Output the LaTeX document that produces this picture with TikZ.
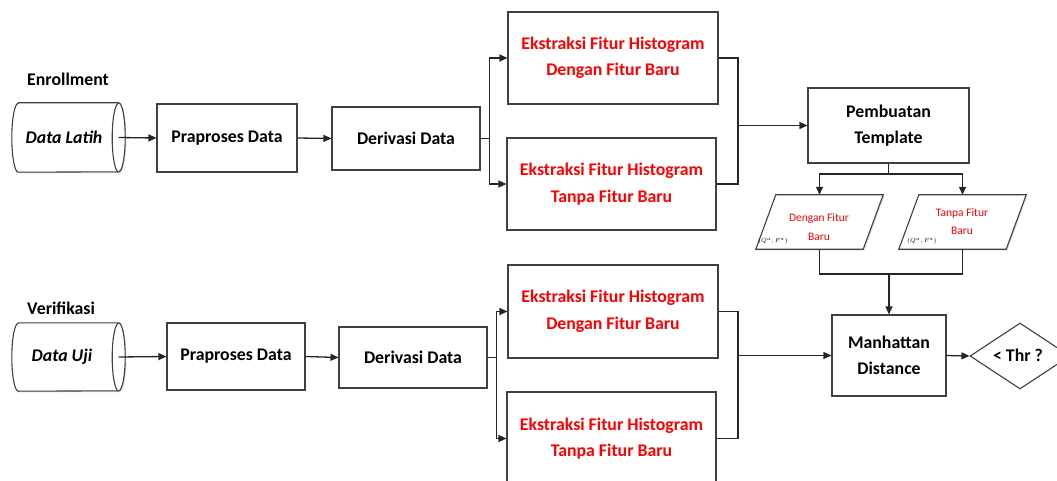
\documentclass[tikz,border=0pt]{standalone}
\usepackage{fontspec}
\setmainfont{Carlito}
\usetikzlibrary{shapes.geometric,arrows.meta,shadows}
\begin{document}
\begin{tikzpicture}[x=1pt,y=-1pt,
  font=\bfseries\fontsize{17.8}{26.5}\selectfont,
  box/.style={draw=black!75, line width=1.1pt, fill=white, align=center, inner sep=0pt,
    drop shadow={shadow xshift=1.2pt, shadow yshift=-1.2pt, opacity=0.3}},
  redbox/.style={box, text=red},
  plain/.style={inner sep=0pt, align=center},
  paranode/.style={plain, minimum width=107pt, minimum height=54pt},
  parashape/.style={draw=black!75, line width=1.1pt, fill=white,
    drop shadow={shadow xshift=1.2pt, shadow yshift=-1.2pt, opacity=0.3}},
  small/.style={plain, text=red, font=\fontsize{11.5}{18}\selectfont},
  ln/.style={line width=1.3pt, draw=black!85},
  arr/.style={ln, -{Triangle[length=8pt,width=7pt]}},
  cyl/.style={draw=black!75, line width=1.1pt, fill=white}
]
\useasboundingbox (0,0) rectangle (1057,481);
\clip (0,0) rectangle (1057,481);

% ---------- Enrollment row ----------
\node[plain, anchor=west] (enr) at (27,79) {Enrollment};
\node[plain, minimum width=113pt, minimum height=69pt] (dl) at (68.5,137.5) {};
\draw[cyl, drop shadow={shadow xshift=1.2pt, shadow yshift=-1.2pt, opacity=0.3}]
  ([xshift=6.5pt]dl.north west) -- ([xshift=-6.5pt]dl.north east)
  arc[start angle=90, end angle=-90, x radius=6.5pt, y radius=34.5pt]
  -- ([xshift=6.5pt]dl.south west)
  arc[start angle=270, end angle=90, x radius=6.5pt, y radius=34.5pt] -- cycle;
\draw[cyl] ([xshift=-6.5pt]dl.south east)
  arc[start angle=270, end angle=90, x radius=6.5pt, y radius=34.5pt];
\node[plain, font=\bfseries\itshape\fontsize{17.8}{26.5}\selectfont] (dlt) at (64,137.5) {Data Latih};

\node[box, minimum width=140pt, minimum height=68pt] (pp1) at (227,138) {Praproses Data};
\node[box, minimum width=148pt, minimum height=63pt] (dd1) at (406,138.5) {Derivasi Data};
\node[redbox, minimum width=210pt, minimum height=92pt] (ex1a) at (613,58) {Ekstraksi Fitur Histogram\\Dengan Fitur Baru};
\node[redbox, minimum width=209pt, minimum height=92pt] (ex1b) at (611.5,184) {Ekstraksi Fitur Histogram\\Tanpa Fitur Baru};
\node[box, minimum width=161pt, minimum height=75pt] (pt) at (888.5,125.5) {Pembuatan\\Template};

\node[paranode] (p1) at (819.5,222) {};
\node[paranode] (p2) at (962.5,222) {};
\foreach \p in {p1,p2}{
  \draw[parashape] ([xshift=-10pt]\p.south west) -- ([xshift=10pt]\p.north west)
    -- ([xshift=10pt]\p.north east) -- ([xshift=-10pt]\p.south east) -- cycle;
}
\node[small] (t1a) at (819,219) {Dengan Fitur};
\node[small] (t1b) at (819,237) {Baru};
\node[small] (t2a) at (962,213) {Tanpa Fitur};
\node[small] (t2b) at (962,231) {Baru};
\node[plain, anchor=west, font=\fontsize{6.5}{7}\selectfont] (q1) at (758,241) {$(Q^a,F^a)$};
\node[plain, anchor=west, font=\fontsize{6.5}{7}\selectfont] (q2) at (907,241) {$(Q^a,F^a)$};

% ---------- Verifikasi row ----------
\node[plain, anchor=west] (ver) at (27,308) {Verifikasi};
\node[plain, minimum width=113pt, minimum height=68pt] (du) at (68.5,357) {};
\draw[cyl, drop shadow={shadow xshift=1.2pt, shadow yshift=-1.2pt, opacity=0.3}]
  ([xshift=6.5pt]du.north west) -- ([xshift=-6.5pt]du.north east)
  arc[start angle=90, end angle=-90, x radius=6.5pt, y radius=34pt]
  -- ([xshift=6.5pt]du.south west)
  arc[start angle=270, end angle=90, x radius=6.5pt, y radius=34pt] -- cycle;
\draw[cyl] ([xshift=-6.5pt]du.south east)
  arc[start angle=270, end angle=90, x radius=6.5pt, y radius=34pt];
\node[plain, font=\bfseries\itshape\fontsize{17.8}{26.5}\selectfont] (dut) at (62,357) {Data Uji};

\node[box, minimum width=138pt, minimum height=67pt] (pp2) at (236,356.5) {Praproses Data};
\node[box, minimum width=148pt, minimum height=61pt] (dd2) at (413,357.5) {Derivasi Data};
\node[redbox, minimum width=210pt, minimum height=93pt] (ex2a) at (613,311.5) {Ekstraksi Fitur Histogram\\Dengan Fitur Baru};
\node[redbox, minimum width=209pt, minimum height=93pt] (ex2b) at (611.5,438.5) {Ekstraksi Fitur Histogram\\Tanpa Fitur Baru};
\node[box, minimum width=114pt, minimum height=81pt] (md) at (889,355.5) {Manhattan\\Distance};
\node[shape=diamond, draw=black!75, line width=1.1pt, fill=white, inner sep=0pt,
  minimum width=100pt, minimum height=66pt] (th) at (1020,356) {};
\node[plain] (tht) at (1018,355) {< Thr ?};

% ---------- connectors ----------
\draw[arr] ([xshift=-6.5pt]dl.east) -- (pp1.west);
\draw[arr] (pp1.east) -- (dd1.west);
\draw[arr] (dd1.east) -- ++(9,0) |- (ex1a.west);
\draw[arr] (dd1.east) -- ++(9,0) |- (ex1b.west);
\coordinate (m1) at (738,125.5);
\draw[ln] (ex1a.east) -| (m1);
\draw[ln] (ex1b.east) -| (m1);
\draw[arr] (m1) -- (pt.west);
\coordinate (j1) at (888.5,174);
\draw[ln] (pt.south) -- (j1);
\draw[arr] (j1) -| (p1.north);
\draw[arr] (j1) -| (p2.north);
\coordinate (j2) at (889,274);
\draw[ln] (p1.south) |- (j2);
\draw[ln] (p2.south) |- (j2);
\draw[arr] (j2) -- (md.north);

\draw[arr] ([xshift=-6.5pt]du.east) -- (pp2.west);
\draw[arr] (pp2.east) -- (dd2.west);
\draw[arr] (dd2.east) -- ++(9,0) |- (ex2a.west);
\draw[arr] (dd2.east) -- ++(9,0) |- (ex2b.west);
\coordinate (m2) at (738,355.5);
\draw[ln] (ex2a.east) -| (m2);
\draw[ln] (ex2b.east) -| (m2);
\draw[arr] (m2) -- (md.west);
\draw[arr] (md.east) -- (th.west);
\end{tikzpicture}
\end{document}
